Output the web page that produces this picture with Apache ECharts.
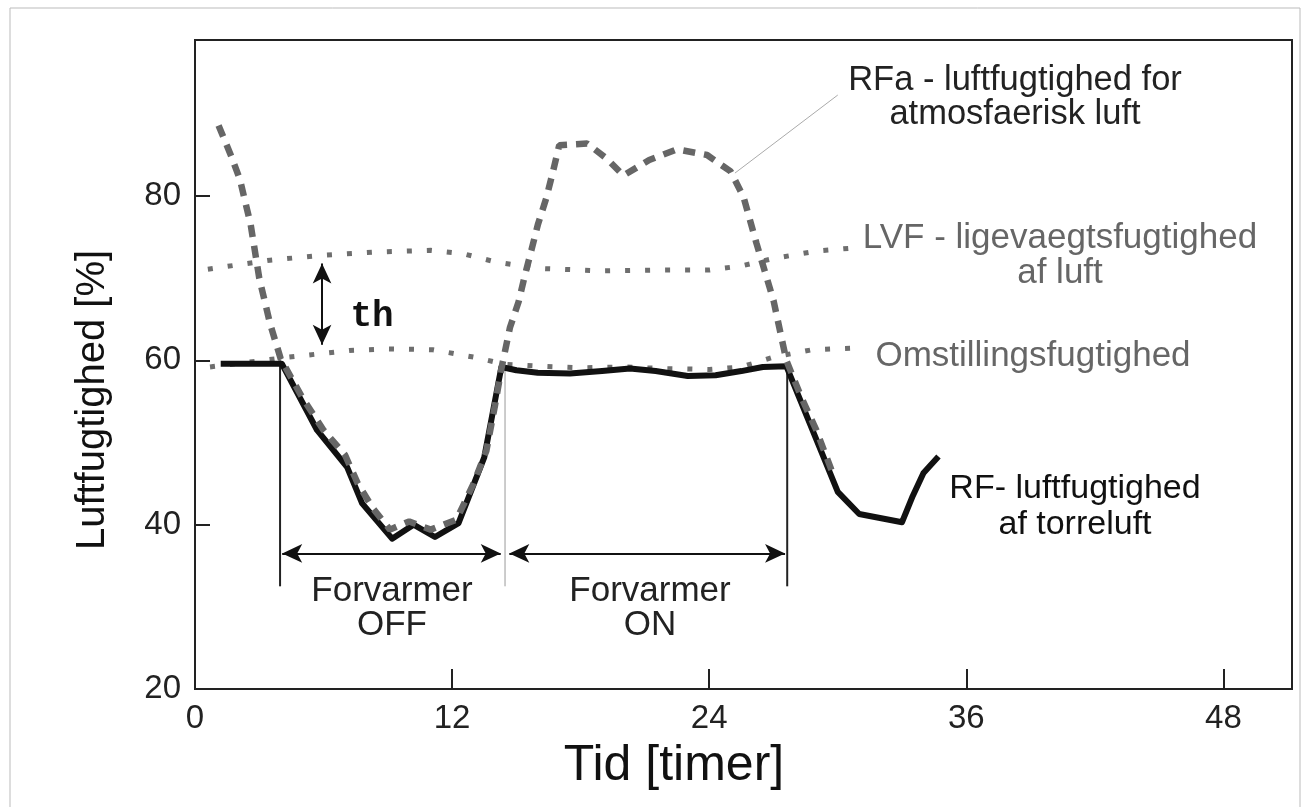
<!DOCTYPE html>
<html>
<head>
<meta charset="utf-8">
<script src="https://cdn.jsdelivr.net/npm/echarts@6/dist/echarts.min.js"></script>
<style>
html,body{margin:0;padding:0;background:#fff;}
#chart{width:1307px;height:807px;}
</style>
</head>
<body>
<div id="chart"></div>
<script>
// ---- Data ----
const xTicks = [0, 12, 24, 36, 48];
const yTicks = [20, 40, 60, 80];
// RF - luftfugtighed af torreluft (solid black)
const rfData = [[1.2,59.6],[4.05,59.6],[5.7,51.5],[7.1,47.0],[7.8,42.6],[9.2,38.3],[10.2,40.0],[11.2,38.5],[12.3,40.2],[13.5,48.2],[14.3,59.2],[15.0,58.8],[16.0,58.5],[17.5,58.4],[19.0,58.7],[20.3,59.0],[21.5,58.7],[23.0,58.1],[24.3,58.2],[25.5,58.7],[26.5,59.2],[27.6,59.3],[30.0,44.0],[31.0,41.3],[33.0,40.3],[33.5,43.5],[34.0,46.3],[34.7,48.3]];
// RFa - luftfugtighed for atmosfaerisk luft (dashed)
const rfaData = [[1.1,88.6],[1.7,84.8],[2.1,82.0],[2.6,76.5],[3.0,70.0],[3.5,64.5],[4.0,60.2],[5.0,55.5],[6.0,51.5],[7.0,48.5],[7.6,45.0],[8.3,42.0],[9.1,39.4],[10.0,40.4],[11.0,39.4],[12.2,40.6],[13.0,45.0],[13.6,49.0],[14.0,54.5],[14.3,59.0],[14.7,64.0],[15.1,67.1],[15.4,70.4],[15.7,73.4],[16.0,76.5],[16.4,79.8],[16.7,82.9],[17.0,86.2],[18.3,86.4],[19.2,84.6],[20.0,82.5],[21.2,84.4],[22.5,85.7],[23.9,85.0],[25.0,83.0],[25.6,79.9],[26.2,74.3],[27.0,67.3],[27.6,60.0],[28.3,55.5],[29.0,51.5],[29.8,46.0]];
// LVF - ligevaegtsfugtighed af luft (dotted)
const lvfData = [[0.6,71.1],[3.5,72.2],[6.0,72.8],[8.5,73.2],[11.0,73.4],[12.5,73.0],[14.0,72.0],[16.0,71.2],[19.0,70.9],[22.0,71.0],[24.0,71.0],[25.5,71.5],[27.0,72.4],[29.0,73.3],[30.8,73.7]];
// Omstillingsfugtighed (dotted)
const omstData = [[0.7,59.2],[4.4,60.4],[7.2,61.2],[9.0,61.4],[11.1,61.3],[13.0,60.4],[14.5,59.5],[16.0,59.3],[18.0,59.1],[20.0,59.2],[22.0,59.0],[24.0,58.9],[25.5,59.2],[27.0,60.4],[28.8,61.3],[30.7,61.5]];
// Annotation positions (data units)
const phaseBounds = [3.97, 14.47, 27.64];
const phaseLineTop = [60, 59.4, 59.0];
const phaseLineBottom = 32.5;
const arrowY = 36.5;
const thArrow = {x: 5.93, top: 71.8, bottom: 61.9};
const leader = [[25.2, 82.8], [30.0, 92.3]];

const chart = echarts.init(document.getElementById('chart'));
const FONT = "'Liberation Sans', Arial, sans-serif";

function vline(x, y1, y2, color, width) {
  return {
    type: 'line', data: [[x, y1], [x, y2]], symbol: 'none', silent: true,
    lineStyle: {color: color, width: width}, z: 1, animation: false
  };
}

const option = {
  animation: false,
  grid: {left: 195, top: 40, width: 1097, height: 649, show: true, borderColor: '#222', borderWidth: 2, backgroundColor: 'transparent'},
  xAxis: {
    type: 'value', min: 0, max: 51.2, interval: 12,
    axisLine: {show: true, lineStyle: {color: '#222', width: 2}},
    axisTick: {show: true, inside: true, length: 20, lineStyle: {color: '#222', width: 2}},
    axisLabel: {fontSize: 33, color: '#222', fontFamily: FONT, margin: 13, showMaxLabel: false,
      formatter: v => xTicks.includes(v) ? String(v) : ''},
    splitLine: {show: false}
  },
  yAxis: {
    type: 'value', min: 20, max: 99, interval: 20,
    axisLine: {show: true, lineStyle: {color: '#222', width: 2}},
    axisTick: {show: true, inside: true, length: 15, lineStyle: {color: '#222', width: 2}},
    axisLabel: {fontSize: 33, color: '#222', fontFamily: FONT, margin: 14, showMaxLabel: false,
      formatter: v => yTicks.includes(v) ? String(v) : ''},
    splitLine: {show: false}
  },
  series: [
    vline(phaseBounds[0], phaseLineTop[0], phaseLineBottom, '#222', 2),
    vline(phaseBounds[1], phaseLineTop[1], phaseLineBottom, '#999', 1),
    vline(phaseBounds[2], phaseLineTop[2], phaseLineBottom, '#222', 2),
    {type: 'line', data: leader, symbol: 'none', lineStyle: {color: '#aaa', width: 1}, z: 1},
    {name: 'LVF', type: 'line', data: lvfData, symbol: 'none', z: 2,
      lineStyle: {color: '#6e6e6e', width: 5, type: [5, 15], cap: 'butt'}},
    {name: 'Omst', type: 'line', data: omstData, symbol: 'none', z: 2,
      lineStyle: {color: '#6e6e6e', width: 5, type: [5, 15], cap: 'butt'}},
    {name: 'RF', type: 'line', data: rfData, symbol: 'none', z: 3,
      lineStyle: {color: '#111', width: 6, join: 'round'}},
    {name: 'RFa', type: 'line', data: rfaData, symbol: 'none', z: 4,
      lineStyle: {color: '#666', width: 6.5, type: [12, 9], cap: 'butt'}},
    {type: 'line', data: [], symbol: 'none', z: 5,
      markLine: {
        silent: true, symbol: ['arrow', 'arrow'], symbolSize: [14, 20], label: {show: false},
        lineStyle: {color: '#111', width: 2, type: 'solid'},
        data: [
          [{coord: [phaseBounds[0] + 0.1, arrowY]}, {coord: [phaseBounds[1] - 0.2, arrowY]}],
          [{coord: [phaseBounds[1] + 0.2, arrowY]}, {coord: [phaseBounds[2] - 0.1, arrowY]}],
          [{coord: [thArrow.x, thArrow.top]}, {coord: [thArrow.x, thArrow.bottom]}]
        ]
      }}
  ],
  graphic: [
    {type: 'rect', shape: {x: 10, y: 8, width: 1290, height: 810}, style: {fill: 'none', stroke: '#bbb', lineWidth: 1}, z: -1, silent: true},
    {type: 'text', x: 674, y: 766, style: {text: 'Tid [timer]', font: "50px " + FONT, fill: '#111', align: 'center', verticalAlign: 'middle'}},
    {type: 'text', x: 93, y: 400, rotation: Math.PI / 2, style: {text: 'Luftfugtighed [%]', font: "40px " + FONT, fill: '#111', align: 'center', verticalAlign: 'middle'}},
    {type: 'text', x: 372, y: 317, style: {text: 'th', font: "bold 36px 'Liberation Mono', 'Courier New', monospace", fill: '#111', align: 'center', verticalAlign: 'middle'}},
    {type: 'text', x: 392, y: 608, style: {text: 'Forvarmer\nOFF', font: "35px " + FONT, lineHeight: 34, fill: '#222', align: 'center', verticalAlign: 'middle'}},
    {type: 'text', x: 650, y: 608, style: {text: 'Forvarmer\nON', font: "35px " + FONT, lineHeight: 34, fill: '#222', align: 'center', verticalAlign: 'middle'}},
    {type: 'text', x: 1015, y: 97, style: {text: 'RFa - luftfugtighed for\natmosfaerisk luft', font: "34.5px " + FONT, lineHeight: 34, fill: '#222', align: 'center', verticalAlign: 'middle'}},
    {type: 'text', x: 1060, y: 256, style: {text: 'LVF - ligevaegtsfugtighed\naf luft', font: "35px " + FONT, lineHeight: 35, fill: '#666', align: 'center', verticalAlign: 'middle'}},
    {type: 'text', x: 1033, y: 356, style: {text: 'Omstillingsfugtighed', font: "35px " + FONT, fill: '#666', align: 'center', verticalAlign: 'middle'}},
    {type: 'text', x: 1075, y: 507, style: {text: 'RF- luftfugtighed\naf torreluft', font: "34px " + FONT, lineHeight: 36, fill: '#111', align: 'center', verticalAlign: 'middle'}}
  ]
};
chart.setOption(option);
</script>
</body>
</html>
